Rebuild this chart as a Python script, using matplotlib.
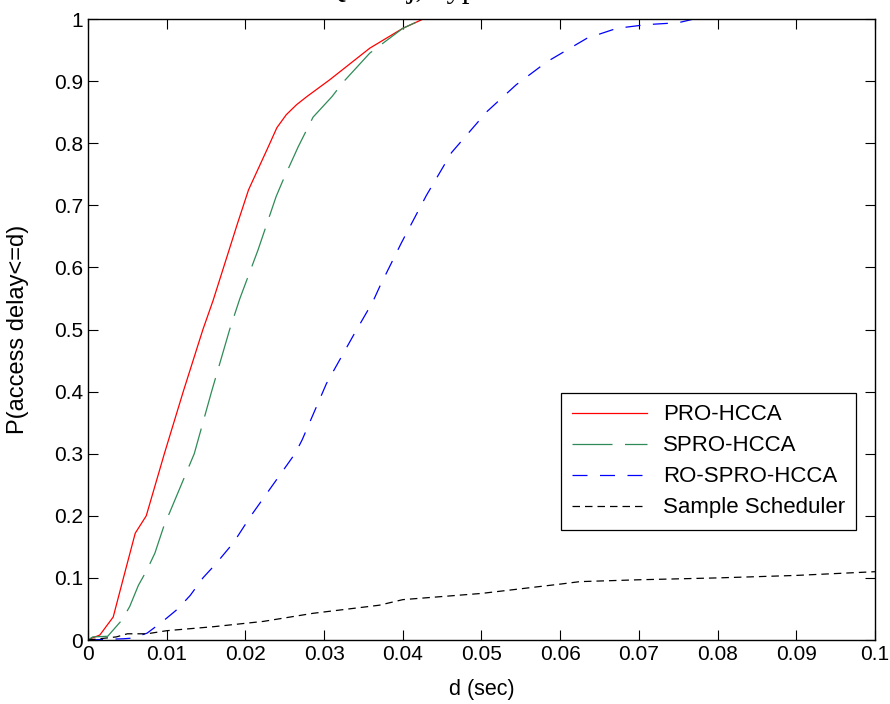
import matplotlib
matplotlib.use("Agg")
import matplotlib.pyplot as plt
from matplotlib.ticker import FuncFormatter

plt.rcParams['font.family'] = ['Liberation Sans', 'DejaVu Sans']

# CDF of access delay
red_d = [0, 0.0005, 0.0015, 0.0032, 0.0045, 0.006, 0.0074, 0.0097, 0.0121, 0.0146,
         0.0159, 0.019, 0.0204, 0.0229, 0.0240, 0.0252, 0.0265, 0.0278, 0.0307, 0.0330,
         0.0358, 0.040, 0.0426, 0.1]
red_p = [0, 0.003, 0.008, 0.037, 0.1, 0.172, 0.2, 0.3, 0.4, 0.5,
         0.547, 0.671, 0.725, 0.794, 0.825, 0.846, 0.862, 0.875, 0.902, 0.925,
         0.953, 0.985, 1.0, 1.0]

green_d = [0, 0.0006, 0.0025, 0.0043, 0.0053, 0.0064, 0.0075, 0.0085, 0.0096, 0.0102,
           0.0135, 0.0157, 0.018, 0.0193, 0.0216, 0.0239, 0.0247, 0.0267, 0.0286, 0.031,
           0.0324, 0.0358, 0.040, 0.0426, 0.1]
green_p = [0, 0.005, 0.006, 0.032, 0.054, 0.088, 0.113, 0.14, 0.182, 0.2,
           0.3, 0.4, 0.5, 0.55, 0.628, 0.714, 0.738, 0.794, 0.842, 0.875,
           0.898, 0.945, 0.985, 1.0, 1.0]

blue_d = [0, 0.0045, 0.0056, 0.0075, 0.0094, 0.0114, 0.013, 0.0146, 0.0162, 0.0185,
          0.0207, 0.0263, 0.0272, 0.0303, 0.0337, 0.0362, 0.0371, 0.0398, 0.043, 0.0462,
          0.0507, 0.0544, 0.0583, 0.0634, 0.0672, 0.071, 0.075, 0.077, 0.1]
blue_p = [0, 0.002, 0.003, 0.011, 0.029, 0.05, 0.072, 0.1, 0.122, 0.157,
          0.2, 0.3, 0.322, 0.413, 0.49, 0.545, 0.57, 0.639, 0.716, 0.785,
          0.851, 0.894, 0.931, 0.969, 0.985, 0.991, 0.994, 1.0, 1.0]

black_d = [0, 0.0036, 0.005, 0.0075, 0.01, 0.016, 0.0223, 0.0286, 0.037, 0.04,
           0.05, 0.06, 0.0625, 0.07, 0.08, 0.09, 0.1]
black_p = [0, 0.005, 0.01, 0.01, 0.015, 0.0215, 0.03, 0.043, 0.056, 0.065,
           0.075, 0.09, 0.094, 0.097, 0.1, 0.104, 0.11]

labels = ['PRO-HCCA', 'SPRO-HCCA', 'RO-SPRO-HCCA', 'Sample Scheduler']
x_ticks = [0, 0.01, 0.02, 0.03, 0.04, 0.05, 0.06, 0.07, 0.08, 0.09, 0.1]
y_ticks = [0, 0.1, 0.2, 0.3, 0.4, 0.5, 0.6, 0.7, 0.8, 0.9, 1]

fig = plt.figure(figsize=(8.9, 7.04), dpi=100)
ax = fig.add_axes([0.0989, 0.0909, 0.8842, 0.8821])

ax.plot(red_d, red_p, color='#ff0000', lw=0.9, label=labels[0])
ax.plot(green_d, green_p, color='#2e8b57', lw=0.9, linestyle=(0, (32, 10)), label=labels[1])
ax.plot(blue_d, blue_p, color='#0000ff', lw=0.9, linestyle=(0, (12, 10)), label=labels[2])
ax.plot(black_d, black_p, color='black', lw=0.9, linestyle=(0, (6, 4)), label=labels[3])

ax.set_xlim(0, 0.1)
ax.set_ylim(0, 1)
ax.set_xticks(x_ticks)
ax.set_yticks(y_ticks)
fmt = FuncFormatter(lambda v, p: '%g' % round(v, 3))
ax.xaxis.set_major_formatter(fmt)
ax.yaxis.set_major_formatter(fmt)
ax.tick_params(direction='in', length=7, width=0.8, top=True, right=True, labelsize=15)
for s in ax.spines.values():
    s.set_linewidth(1.0)

ax.set_xlabel('d (sec)', fontsize=15.5, labelpad=11)
ax.set_ylabel('P(access delay<=d)', fontsize=17, labelpad=18)

leg = ax.legend(loc='lower right', bbox_to_anchor=(0.99, 0.16), fontsize=16,
                handlelength=3.4, handletextpad=0.7, fancybox=False, framealpha=1,
                edgecolor='black', borderpad=0.5, labelspacing=0.45)
leg.get_frame().set_linewidth(0.9)

# title sits mostly above the visible canvas, as in the reference
fig.text(0.47, 1.004, 'QSTA j, Type 1', ha='center', va='baseline',
         fontsize=22, family=['Liberation Serif', 'DejaVu Serif'])

fig.savefig('out.png', dpi=100)
